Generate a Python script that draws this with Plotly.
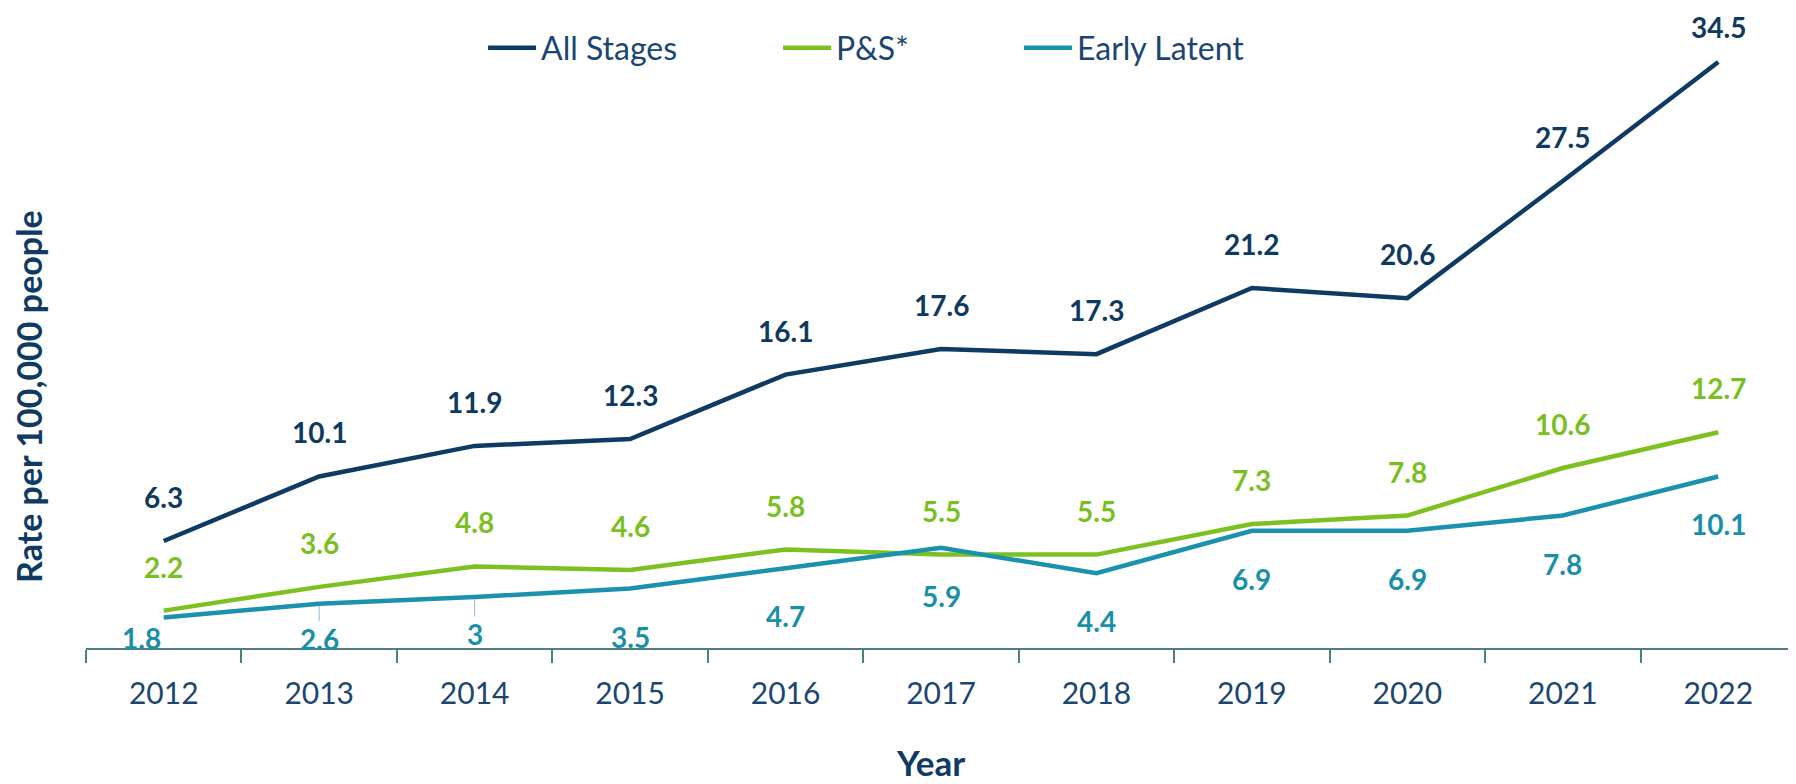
import plotly.graph_objects as go

years = ["2012", "2013", "2014", "2015", "2016", "2017", "2018", "2019", "2020", "2021", "2022"]
all_stages = [6.3, 10.1, 11.9, 12.3, 16.1, 17.6, 17.3, 21.2, 20.6, 27.5, 34.5]
ps = [2.2, 3.6, 4.8, 4.6, 5.8, 5.5, 5.5, 7.3, 7.8, 10.6, 12.7]
early_latent = [1.8, 2.6, 3.0, 3.5, 4.7, 5.9, 4.4, 6.9, 6.9, 7.8, 10.1]
el_labels = ["1.8", "2.6", "3", "3.5", "4.7", "5.9", "4.4", "6.9", "6.9", "7.8", "10.1"]

series_names = ["All Stages", "P&S*", "Early Latent"]
line_colors = ["#0E3A63", "#7CC120", "#1A91AD"]
label_colors = ["#0F3A60", "#7ABF22", "#1A8FAA"]

# label offsets in pixels (positive = up from point), style only
as_offsets = [44, 44, 44, 44, 44, 44, 44, 44, 44, 44, 35]
ps_offsets = [44] * 11
el_offsets = [-21, -35, -37, -48, -48, -48, -48, -48, -48, -48, -48]
el_xshift = [-22, 0, 0, 0, 0, 0, 0, 0, 0, 0, 0]
el_leader = [False, True, True, False, False, False, False, False, False, False, False]

FONT = "Lato"
TEXT_NAVY = "#1B4672"
AXIS_COLOR = "#4D7F82"

fig = go.Figure()
for i, (name, vals) in enumerate(zip(series_names, [all_stages, ps, early_latent])):
    fig.add_trace(go.Scatter(
        x=years, y=vals, mode="lines", name=name,
        line=dict(color=line_colors[i], width=4.5),
        legend=["legend", "legend2", "legend3"][i],
        hoverinfo="x+y+name",
    ))

annotations = []
def add_labels(vals, texts, offsets, color, xshifts=None, leaders=None):
    for j, (yr, v, t, off) in enumerate(zip(years, vals, texts, offsets)):
        annotations.append(dict(
            x=j, y=v, xref="x", yref="y", text="<b>" + t + "</b>",
            showarrow=False, yshift=off, xshift=(xshifts[j] if xshifts else 0),
            font=dict(family=FONT, size=28, color=color),
        ))
        if leaders and leaders[j]:
            annotations.append(dict(
                x=j, y=v, xref="x", yref="y", text="",
                showarrow=True, ax=0, ay=-off - 16,
                arrowhead=0, arrowwidth=1, arrowcolor="#8DB9EA", standoff=2,
            ))

add_labels(all_stages, [str(v) for v in all_stages], as_offsets, label_colors[0])
add_labels(ps, [str(v) for v in ps], ps_offsets, label_colors[1])
add_labels(early_latent, el_labels, el_offsets, label_colors[2], el_xshift, el_leader)

annotations.append(dict(
    text="<b>Rate per 100,000 people</b>", xref="paper", yref="paper",
    x=-0.0333, y=0.413, textangle=-90, showarrow=False,
    font=dict(family=FONT, size=34, color="#0E3A63"),
    xanchor="center", yanchor="middle",
))
annotations.append(dict(
    text="<b>Year</b>", xref="paper", yref="paper",
    x=0.4936, y=-0.187, showarrow=False,
    font=dict(family=FONT, size=35, color="#0E3A63"),
    xanchor="center", yanchor="middle",
))

leg_common = dict(orientation="h", yanchor="middle", y=0.987, xanchor="left",
                  bgcolor="rgba(0,0,0,0)", borderwidth=0, itemwidth=48,
                  font=dict(family=FONT, size=32, color=TEXT_NAVY))

fig.update_layout(
    width=1788, height=776,
    margin=dict(l=78, r=0, t=32, b=136),
    paper_bgcolor="white", plot_bgcolor="white",
    font=dict(family=FONT, color=TEXT_NAVY),
    showlegend=True,
    legend=dict(x=0.2322, **leg_common),
    legend2=dict(x=0.4047, **leg_common),
    legend3=dict(x=0.5456, **leg_common),
    annotations=annotations,
    xaxis=dict(
        type="category", range=[-0.5, 10.5],
        showline=True, linecolor=AXIS_COLOR, linewidth=2,
        ticks="outside", tickson="boundaries", ticklen=13, tickwidth=2, tickcolor=AXIS_COLOR,
        tickfont=dict(family=FONT, size=30, color=TEXT_NAVY),
        ticklabelstandoff=18,
        showgrid=False, zeroline=False,
    ),
    yaxis=dict(
        range=[0, 35.8], showticklabels=False, showline=False, ticks="",
        showgrid=False, zeroline=False,
    ),
)

fig.write_html("out.html")
